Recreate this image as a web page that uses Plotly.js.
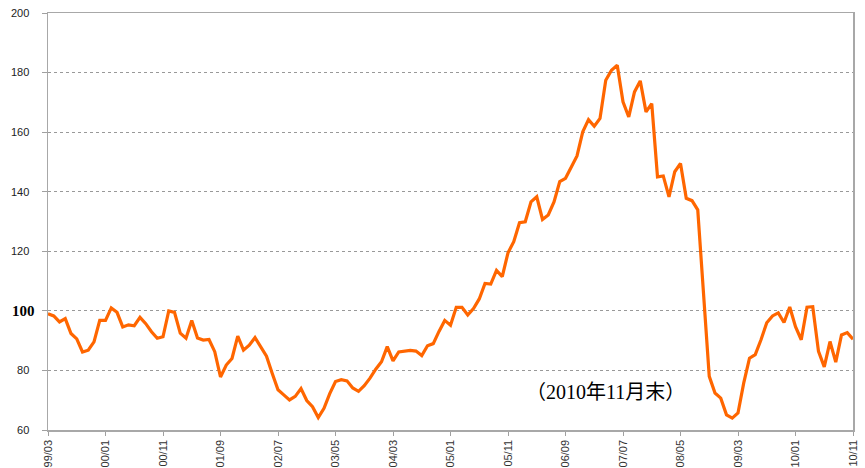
<!DOCTYPE html>
<html>
<head>
<meta charset="utf-8">
<script src="https://cdn.plot.ly/plotly-3.0.1.min.js"></script>
<style>
  html, body { margin: 0; padding: 0; background: #ffffff; }
  #chart { width: 865px; height: 468px; }
</style>
</head>
<body>
<div id="chart"></div>
<script>
// Monthly series, 1999/03 .. 2010/11
const startYear = 1999;
const startMonth = 3;
const values = [
  99.0, 98.3, 96.3, 97.4, 92.4, 90.6, 86.2, 86.8, 89.6, 96.8,
  96.8, 101.0, 99.5, 94.6, 95.3, 95.0, 97.8, 95.7, 93.0, 90.8,
  91.3, 100.0, 99.5, 92.5, 90.8, 96.8, 90.9, 90.2, 90.4, 86.3,
  77.8, 81.8, 84.0, 91.5, 86.8, 88.5, 91.0, 87.9, 84.8, 79.0,
  73.5, 71.8, 70.1, 71.3, 73.9, 69.9, 67.8, 64.2, 67.3, 72.2,
  76.3, 76.9, 76.5, 74.1, 73.0, 74.9, 77.4, 80.4, 82.9, 88.0,
  83.2, 86.2, 86.4, 86.7, 86.5, 85.0, 88.3, 89.0, 93.1, 96.8,
  95.2, 101.2, 101.2, 98.6, 100.8, 104.0, 109.2, 109.0, 113.6, 111.5,
  119.5, 123.2, 129.6, 129.9, 136.6, 138.3, 130.7, 132.2, 136.6, 143.4,
  144.5, 148.4, 152.0, 160.1, 164.2, 162.0, 164.6, 177.4, 180.8, 182.5,
  170.2, 165.1, 173.5, 177.2, 166.8, 169.6, 145.0, 145.3, 138.3, 146.7,
  149.5, 137.8, 137.0, 133.9, 106.0, 78.0, 72.4, 70.7, 65.1, 64.0,
  65.7, 75.8, 84.1, 85.3, 90.3, 96.0, 98.3, 99.3, 96.1, 101.3,
  94.7, 90.3, 101.2, 101.4, 86.4, 81.2, 89.7, 82.8, 91.9, 92.7,
  90.5
];
const xTickLabels = ['99/03','00/01','00/11','01/09','02/07','03/05','04/03','05/01',
                     '05/11','06/09','07/07','08/05','09/03','10/01','10/11'];
const yTickVals = [60, 80, 100, 120, 140, 160, 180, 200];
const yTickLabels = ['60', '80', '100', '120', '140', '160', '180', '200'];
const noteText = '（2010年11月末）';

// month category labels
const months = values.map((_, i) => {
  const m0 = (startMonth - 1) + i;
  const y = startYear + Math.floor(m0 / 12);
  const m = (m0 % 12) + 1;
  return String(y % 100).padStart(2, '0') + '/' + String(m).padStart(2, '0');
});

const yTickText = yTickLabels.map(t => t === '100' ? '' : t);
const noteHtml = noteText.replace(/[（）年月末]/g,
  c => '<span style="font-family:Noto Sans CJK JP">' + c + '</span>');

const trace = {
  x: months,
  y: values,
  type: 'scatter',
  mode: 'lines',
  line: { color: '#FF6600', width: 3.2, shape: 'linear' },
  hoverinfo: 'skip'
};

const layout = {
  width: 865,
  height: 468,
  margin: { l: 48, r: 12, t: 13, b: 38, pad: 0 },
  paper_bgcolor: '#ffffff',
  plot_bgcolor: '#ffffff',
  showlegend: false,
  font: { family: 'Liberation Sans, Arial, sans-serif', color: '#222222', size: 11 },
  xaxis: {
    type: 'category',
    range: [0, values.length - 1],
    tickmode: 'array',
    tickvals: xTickLabels,
    ticktext: xTickLabels,
    tickangle: -90,
    ticks: 'outside',
    ticklen: 4,
    tickcolor: '#a0a0a0',
    tickwidth: 1,
    tickfont: { size: 11, color: '#333333', family: 'Liberation Sans, Arial, sans-serif' },
    showgrid: false,
    zeroline: false,
    showline: true,
    linecolor: '#a8a8a8',
    linewidth: 1.5,
    mirror: true,
    automargin: false,
    fixedrange: true
  },
  yaxis: {
    range: [60, 200],
    tickmode: 'array',
    tickvals: yTickVals,
    ticktext: yTickText,
    ticks: 'outside',
    ticklen: 5,
    tickcolor: '#a0a0a0',
    tickwidth: 1,
    ticklabelstandoff: 10,
    tickfont: { size: 11, color: '#222222', family: 'Liberation Sans, Arial, sans-serif' },
    showgrid: true,
    gridcolor: '#999999',
    gridwidth: 1,
    griddash: '3px,3px',
    zeroline: false,
    showline: true,
    linecolor: '#a8a8a8',
    linewidth: 1.5,
    mirror: true,
    automargin: false,
    fixedrange: true
  },
  annotations: [
    {
      xref: 'paper', yref: 'y',
      x: 0, y: 100,
      xanchor: 'right', yanchor: 'middle',
      xshift: -11,
      text: '<b>' + yTickLabels[2] + '</b>',
      showarrow: false,
      font: { family: 'Liberation Serif, Times New Roman, serif', size: 15, color: '#000000' }
    },
    {
      xref: 'x', yref: 'y',
      x: 96.9, y: 73.4,
      xanchor: 'center', yanchor: 'middle',
      text: noteHtml,
      showarrow: false,
      font: { family: 'Liberation Serif, Noto Sans CJK JP, serif', size: 20, color: '#000000' }
    }
  ]
};

Plotly.newPlot('chart', [trace], layout, { displayModeBar: false, staticPlot: true });
</script>
</body>
</html>
